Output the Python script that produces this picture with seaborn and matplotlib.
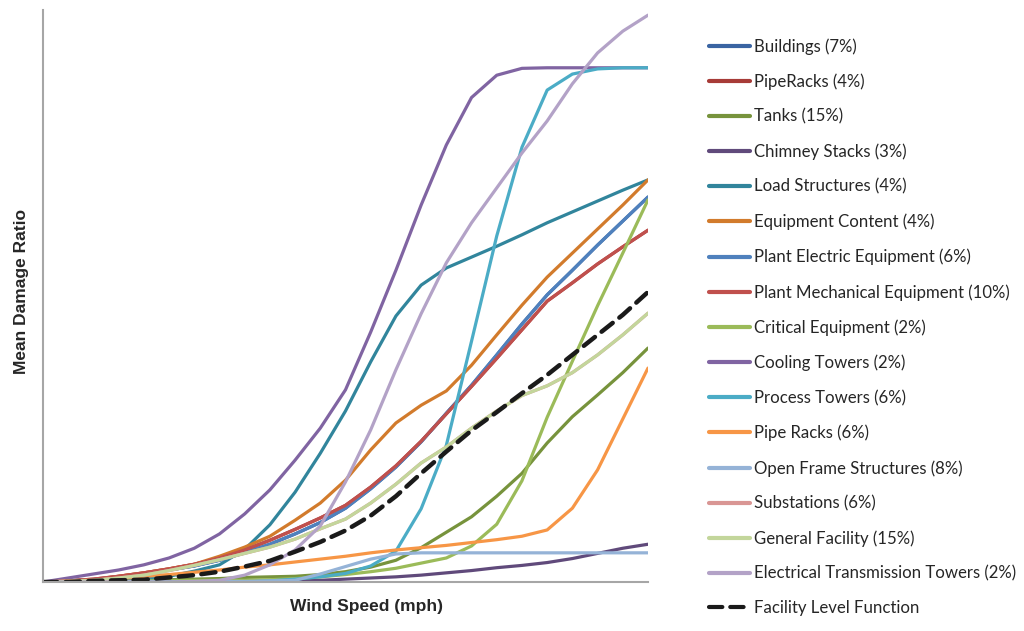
import matplotlib
matplotlib.use("Agg")
import matplotlib.pyplot as plt
import seaborn as sns

# wind speed grid (arbitrary units, axis carries no tick labels)
WIND = [0, 5, 10, 15, 20, 25, 30, 35, 40, 45, 50, 55, 60,
        65, 70, 75, 80, 85, 90, 95, 100, 105, 110, 115, 120]

# mean damage ratio (%) per component
BUILDINGS = [0, 0.2, 0.4, 0.9, 1.4, 2.1, 2.8, 3.8, 5.1, 6.6, 8.4, 10.4, 12.9,
             16.3, 20.1, 24.5, 29.5, 34.4, 39.7, 45.1, 50.2, 54.5, 58.9, 63.1, 67.3]
PIPERACKS = [0, 0.2, 0.5, 1.0, 1.6, 2.3, 3.1, 4.2, 5.6, 7.3, 9.2, 11.2, 13.4,
             16.6, 20.3, 24.6, 29.4, 34.2, 39.1, 44.1, 49.1, 52.3, 55.6, 58.6, 61.5]
TANKS = [0, 0.1, 0.2, 0.2, 0.3, 0.4, 0.5, 0.6, 0.8, 0.9, 1.0, 1.3, 1.8,
         2.6, 3.8, 6.0, 8.7, 11.4, 15.0, 19.0, 24.3, 28.9, 32.7, 36.6, 40.9]
CHIMNEY = [0, 0, 0, 0, 0, 0, 0, 0, 0, 0.1, 0.2, 0.3, 0.5,
           0.7, 0.9, 1.2, 1.6, 2.0, 2.5, 2.9, 3.4, 4.1, 5.0, 5.9, 6.6]
LOAD_STRUCT = [0, 0, 0.2, 0.3, 0.5, 1.0, 1.9, 3.0, 5.7, 10.0, 15.7, 22.5, 29.9,
               38.5, 46.5, 51.9, 54.9, 56.8, 58.7, 60.7, 62.8, 64.7, 66.6, 68.5, 70.3]
EQUIP_CONTENT = [0, 0.2, 0.4, 1.0, 1.6, 2.3, 3.1, 4.5, 6.1, 8.0, 10.8, 13.8, 17.8,
                 23.1, 27.8, 30.9, 33.4, 37.9, 43.2, 48.4, 53.3, 57.5, 61.7, 65.9, 70.3]
PLANT_ELEC = [0, 0.2, 0.4, 0.9, 1.4, 2.1, 2.8, 3.8, 5.1, 6.6, 8.4, 10.4, 12.9,
              16.3, 20.1, 24.5, 29.5, 34.4, 39.7, 45.1, 50.2, 54.5, 58.9, 63.1, 67.3]
PLANT_MECH = [0, 0.2, 0.5, 1.0, 1.6, 2.3, 3.1, 4.2, 5.6, 7.3, 9.2, 11.2, 13.4,
              16.6, 20.3, 24.6, 29.4, 34.2, 39.1, 44.1, 49.1, 52.3, 55.6, 58.6, 61.5]
CRITICAL = [0, 0, 0.1, 0.1, 0.2, 0.2, 0.3, 0.3, 0.3, 0.4, 0.6, 0.9, 1.3,
            1.8, 2.4, 3.3, 4.2, 6.3, 10.1, 17.7, 28.8, 38.6, 48.3, 57.5, 66.8]
COOLING = [0, 0.7, 1.4, 2.1, 3.0, 4.2, 5.9, 8.4, 11.9, 16.1, 21.3, 26.9, 33.6,
           43.7, 54.5, 65.9, 76.4, 84.7, 88.6, 89.8, 89.9, 89.9, 89.9, 89.9, 89.9]
PROCESS = [0, 0, 0, 0, 0, 0, 0, 0, 0, 0.2, 0.5, 0.9, 1.5,
           2.8, 5.4, 12.8, 23.9, 42.1, 60.5, 76.0, 86.0, 88.8, 89.7, 89.9, 89.9]
PIPE_RACKS = [0, 0.2, 0.3, 0.6, 1.0, 1.3, 1.7, 2.1, 2.6, 3.0, 3.5, 4.0, 4.5,
              5.1, 5.6, 6.0, 6.4, 6.9, 7.4, 8.0, 9.1, 12.9, 19.6, 28.5, 37.4]
OPEN_FRAME = [0, 0, 0, 0, 0, 0, 0, 0.1, 0.1, 0.2, 0.3, 1.4, 2.7,
              4.0, 4.9, 5.1, 5.1, 5.1, 5.1, 5.1, 5.1, 5.1, 5.1, 5.1, 5.1]
SUBSTATIONS = [0, 0.1, 0.3, 0.7, 1.2, 2.0, 2.9, 3.9, 5.0, 6.1, 7.5, 9.3, 11.0,
               13.8, 17.1, 20.8, 23.6, 26.9, 29.9, 32.6, 34.3, 36.6, 39.7, 43.2, 47.0]
GENERAL = [0, 0.1, 0.3, 0.7, 1.2, 2.0, 2.9, 3.9, 5.0, 6.1, 7.5, 9.3, 11.0,
           13.8, 17.1, 20.8, 23.6, 26.9, 29.9, 32.6, 34.3, 36.6, 39.7, 43.2, 47.0]
TRANSMISSION = [0, 0, 0, 0, 0, 0, 0.1, 0.3, 1.2, 3.0, 5.6, 9.8, 17.5,
                26.6, 37.1, 46.9, 55.8, 62.8, 68.9, 75.0, 80.6, 87.1, 92.5, 96.3, 99.1]
FACILITY = [0, 0, 0.2, 0.3, 0.4, 0.8, 1.2, 1.8, 2.7, 3.7, 5.3, 7.0, 9.0,
            11.6, 15.0, 19.0, 22.8, 26.5, 29.7, 33.0, 36.2, 39.7, 43.2, 46.7, 50.7]

LABELS = [
    "Buildings (7%)", "PipeRacks (4%)", "Tanks (15%)", "Chimney Stacks (3%)",
    "Load Structures (4%)", "Equipment Content (4%)", "Plant Electric Equipment (6%)",
    "Plant Mechanical Equipment (10%)", "Critical Equipment (2%)", "Cooling Towers (2%)",
    "Process Towers (6%)", "Pipe Racks (6%)", "Open Frame Structures (8%)",
    "Substations (6%)", "General Facility (15%)", "Electrical Transmission Towers (2%)",
]
SERIES = [BUILDINGS, PIPERACKS, TANKS, CHIMNEY, LOAD_STRUCT, EQUIP_CONTENT, PLANT_ELEC,
          PLANT_MECH, CRITICAL, COOLING, PROCESS, PIPE_RACKS, OPEN_FRAME,
          SUBSTATIONS, GENERAL, TRANSMISSION]
COLORS = ["#3A64A2", "#A73B37", "#77933C", "#604A7B", "#31859C", "#D27B2C",
          "#4F81BD", "#C0504D", "#9BBB59", "#8064A2", "#4BACC6", "#F79646",
          "#95B3D7", "#D99694", "#C3D69B", "#B3A2C7"]

sns.set_style("white")

fig = plt.figure(figsize=(10.24, 6.31), dpi=100)
ax = fig.add_axes([43 / 1024, 1 - 582 / 631, 605 / 1024, 572 / 631])

for label, values, color in zip(LABELS, SERIES, COLORS):
    sns.lineplot(x=WIND, y=values, ax=ax, color=color, linewidth=2.3,
                 label=label, solid_capstyle="round", solid_joinstyle="round")

sns.lineplot(x=WIND, y=FACILITY, ax=ax, color="#1a1a1a", linewidth=3.2,
             linestyle=(0, (3.2, 1.9)), label="Facility Level Function",
             dash_capstyle="round")

ax.set_xlim(0, 120)
ax.set_ylim(0, 100)
ax.set_xticks([])
ax.set_yticks([])
ax.margins(0)
for side in ["top", "right"]:
    ax.spines[side].set_visible(False)
for side in ["left", "bottom"]:
    ax.spines[side].set_color("#a6a6a6")
    ax.spines[side].set_linewidth(1.5)

fig.text(22 / 1024, 1 - 292 / 631, "Mean Damage Ratio", rotation=90,
         ha="center", va="center", fontsize=12.5, fontweight="bold",
         family=["Liberation Sans", "DejaVu Sans"])
fig.text(366 / 1024, 1 - 606 / 631, "Wind Speed (mph)",
         ha="center", va="center", fontsize=12.5, fontweight="bold",
         family=["Liberation Sans", "DejaVu Sans"])

leg = ax.legend(loc="upper left", bbox_to_anchor=(701 / 1024, 1 - 29.7 / 631),
                bbox_transform=fig.transFigure, frameon=False,
                prop={"family": "Lato", "size": 12.1}, borderpad=0,
                handlelength=2.4, handletextpad=0.25, labelspacing=1.113)
for line in leg.get_lines():
    line.set_linewidth(3)

fig.savefig("out.png", dpi=100)
